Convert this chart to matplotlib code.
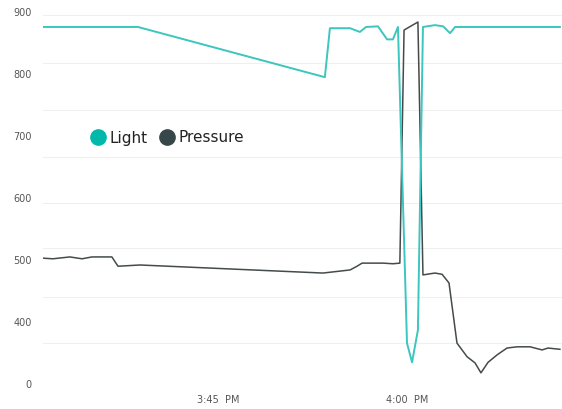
import matplotlib
matplotlib.use("Agg")
import matplotlib.pyplot as plt
import matplotlib.dates as mdates
from matplotlib.lines import Line2D
import pandas as pd

DAY = "2017-01-01 "

light_times = ["15:31:07", "15:38:39", "15:53:29", "15:53:53", "15:55:29", "15:56:16",
               "15:56:45", "15:57:42", "15:58:25", "15:58:53", "15:59:17", "16:00:00",
               "16:00:24", "16:00:52", "16:01:16", "16:02:13", "16:02:52", "16:03:25",
               "16:03:49", "16:12:08"]
light_values = [876, 876, 795, 874, 874, 868, 876, 877, 856, 856, 876, 366,
                335, 387, 876, 879, 877, 866, 876, 876]

pressure_times = ["15:31:07", "15:31:54", "15:33:15", "15:34:13", "15:35:00", "15:36:35",
                  "15:37:04", "15:38:49", "15:53:20", "15:55:29", "15:56:02", "15:56:26",
                  "15:58:06", "15:58:53", "15:59:26", "15:59:46", "16:00:52", "16:01:16",
                  "16:02:13", "16:02:47", "16:03:20", "16:03:58", "16:04:46", "16:05:24",
                  "16:05:52", "16:06:26", "16:07:09", "16:07:56", "16:08:44", "16:09:46",
                  "16:10:43", "16:11:11", "16:12:08"]
pressure_values = [503, 502, 505, 502, 505, 505, 490, 492, 479, 484, 490, 495,
                   495, 494, 495, 871, 884, 476, 479, 477, 463, 366, 344, 334,
                   318, 335, 347, 358, 360, 360, 355, 358, 356]

y_ticks = [300, 400, 500, 600, 700, 800, 900]
y_tick_labels = ["0", "400", "500", "600", "700", "800", "900"]
grid_levels = [895, 818, 742, 666, 592, 519, 440, 366, 300]
x_ticks = ["15:45:00", "16:00:00"]
x_range = ["15:31:07", "16:12:18"]

LIGHT_C = "#3CC6BD"
PRESS_C = "#454a4c"

def ts(lst):
    return pd.to_datetime([DAY + t for t in lst])

fig = plt.figure(figsize=(5.62, 4.09), dpi=100)
ax = fig.add_axes([43/562, 25/409, 519/562, 375/409])

for g in grid_levels:
    ax.axhline(g, color="#efefef", lw=0.8, zorder=0)

ax.plot(ts(light_times), light_values, color=LIGHT_C, lw=1.4, zorder=3)
ax.plot(ts(pressure_times), pressure_values, color=PRESS_C, lw=1.1, zorder=2)

ax.set_ylim(300, 905)
ax.set_xlim(ts(x_range)[0], ts(x_range)[1])
ax.set_yticks(y_ticks)
ax.set_yticklabels(y_tick_labels)
ax.set_xticks(ts(x_ticks))
ax.xaxis.set_major_formatter(mdates.DateFormatter("%-I:%M  %p"))
ax.tick_params(axis="both", length=0, labelsize=7, colors="#555555")
ax.tick_params(axis="y", pad=8)
ax.tick_params(axis="x", pad=8)
for s in ax.spines.values():
    s.set_visible(False)

handles = [Line2D([], [], ls="none", marker="o", markersize=11, color="#01B8AA"),
           Line2D([], [], ls="none", marker="o", markersize=11, color="#374649")]
ax.legend(handles, ["Light", "Pressure"], ncol=2, frameon=False, fontsize=11,
          loc="center left", bbox_to_anchor=(33/519, 1 - (138-9)/375),
          handletextpad=0.2, columnspacing=0.7, handlelength=1.1,
          labelcolor="#222222")

fig.savefig("out.png", dpi=100)
